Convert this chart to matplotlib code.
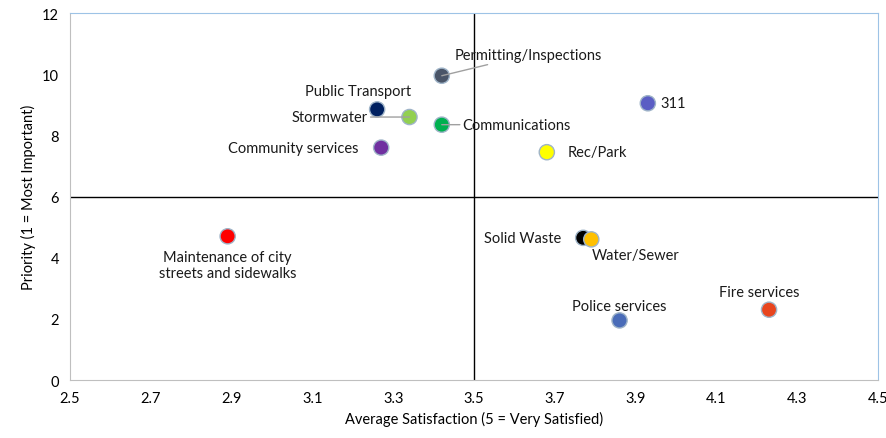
import matplotlib.pyplot as plt

plt.rcParams['font.family'] = ['Lato', 'DejaVu Sans']

services = ['Maintenance of city\nstreets and sidewalks', 'Community services', 'Public Transport',
            'Stormwater', 'Permitting/Inspections', 'Communications', 'Rec/Park', '311',
            'Solid Waste', 'Water/Sewer', 'Police services', 'Fire services']
satisfaction = [2.89, 3.27, 3.26, 3.34, 3.42, 3.42, 3.68, 3.93, 3.77, 3.79, 3.86, 4.23]
priority = [4.7, 7.6, 8.85, 8.6, 9.95, 8.35, 7.45, 9.05, 4.65, 4.6, 1.95, 2.3]
colors = ['#FF0000', '#7030A0', '#002060', '#92D050', '#4A5568', '#00B050', '#FFFF00',
          '#5B5EC4', '#000000', '#FFC000', '#4A6CB8', '#E8451E']

# label offsets in points (dx, dy), alignment, and whether a leader line is drawn
label_pos = [(0, -10, 'center', 'top', False),
             (-16, 0, 'right', 'center', False),
             (-14, 8, 'center', 'bottom', False),
             (-30, 0, 'right', 'center', True),
             (62, 10, 'center', 'bottom', True),
             (15, 0, 'left', 'center', True),
             (15, 0, 'left', 'center', False),
             (9, 0, 'left', 'center', False),
             (-16, 0, 'right', 'center', False),
             (0, -6, 'left', 'top', False),
             (0, 5, 'center', 'bottom', False),
             (-7, 8, 'center', 'bottom', False)]

fig = plt.figure(figsize=(8.87, 4.39), dpi=100)
ax = fig.add_axes([0.079, 0.132, 0.911, 0.836])

ax.axvline(3.5, color='black', lw=1, zorder=1)
ax.axhline(6, color='black', lw=1, zorder=1)

ax.scatter(satisfaction, priority, s=120, c=colors, edgecolors='#9FB4C8', linewidths=1, zorder=3)

for name, x, y, lp in zip(services, satisfaction, priority, label_pos):
    dx, dy, ha, va, leader = lp
    props = dict(arrowstyle='-', color='#A0A0A0', lw=1, shrinkA=0, shrinkB=0) if leader else None
    ax.annotate(name, (x, y), xytext=(dx, dy), textcoords='offset points', ha=ha, va=va,
                fontsize=10.5, color='#1A1A1A', arrowprops=props, zorder=4,
                multialignment='center')

ax.set_xlim(2.5, 4.5)
ax.set_ylim(0, 12)
ax.set_xticks([2.5, 2.7, 2.9, 3.1, 3.3, 3.5, 3.7, 3.9, 4.1, 4.3, 4.5])
ax.set_yticks([0, 2, 4, 6, 8, 10, 12])
ax.tick_params(length=0, labelsize=10.5, pad=8)
ax.set_xlabel('Average Satisfaction (5 = Very Satisfied)', fontsize=10.5)
ax.set_ylabel('Priority (1 = Most Important)', fontsize=10.5)

ax.spines['left'].set_color('#BFBFBF')
ax.spines['bottom'].set_color('#BFBFBF')
ax.spines['top'].set_color('#9DC3E6')
ax.spines['right'].set_color('#9DC3E6')

fig.savefig('out.png', dpi=100)
